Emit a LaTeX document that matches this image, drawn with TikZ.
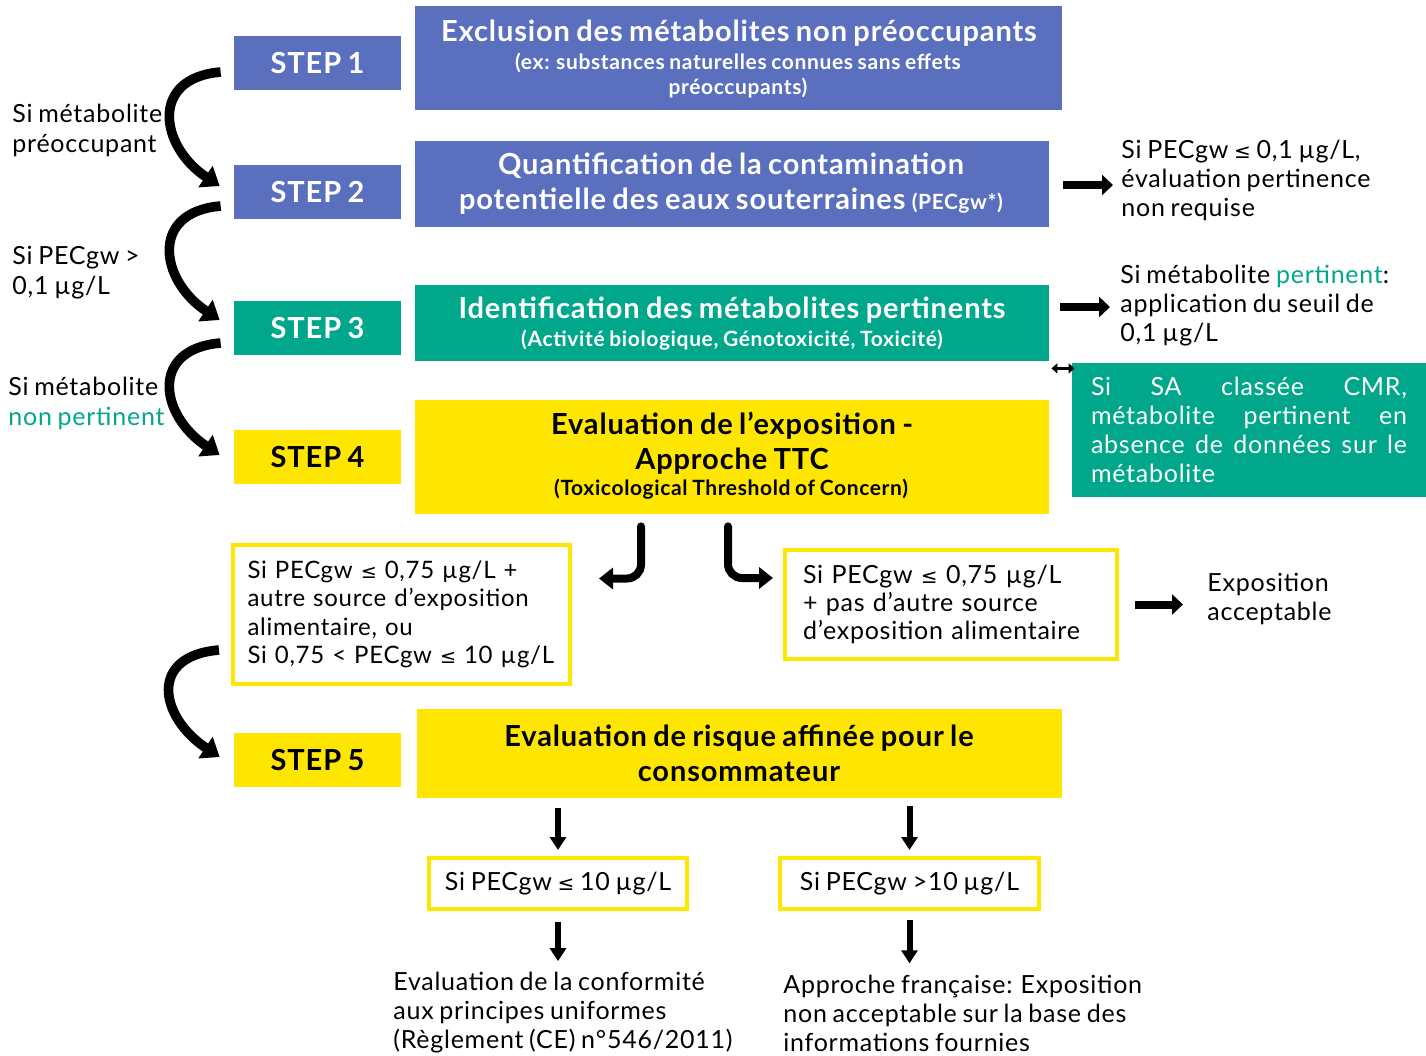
\documentclass[tikz,border=0pt]{standalone}
\usepackage{fontspec}
\setmainfont{Lato}[LetterSpace=3.0, WordSpace=0.8]
\newfontfamily\symfont{DejaVu Sans}[Scale=0.8]
\newcommand{\lesym}{{\symfont ≤}}
\usetikzlibrary{arrows.meta}
\definecolor{cblue}{HTML}{5A6FBE}
\definecolor{cgreen}{HTML}{00A78B}
\definecolor{cyellow}{HTML}{FFE600}
\tikzset{
  stepbox/.style={font=\bfseries\fontsize{14.5}{18}\selectfont, minimum width=83.5pt, minimum height=27pt, inner sep=0pt},
  bluefill/.style={fill=cblue, text=white},
  greenfill/.style={fill=cgreen, text=white},
  yellowfill/.style={fill=cyellow, text=black},
  mainbox/.style={inner sep=0pt},
  titletxt/.style={font=\bfseries\fontsize{14.5}{17.5}\selectfont, align=center, inner sep=0pt},
  subtxt/.style={font=\bfseries\fontsize{10.5}{12.5}\selectfont, align=center, inner sep=0pt},
  plaintxt/.style={font=\fontsize{12.5}{14.5}\selectfont, align=left, inner sep=0pt},
  condbox/.style={draw=cyellow, line width=2pt, fill=white, font=\fontsize{12.5}{14.2}\selectfont, align=left, inner ysep=0pt},
  curv/.style={line width=4.8pt, -{Triangle[length=8.5pt,width=12.5pt]}},
  sarrow/.style={line width=4pt, -{Triangle[length=5.5pt,width=10pt]}},
  darrow/.style={line width=3pt, -{Triangle[length=6.5pt,width=8pt]}},
  elbow/.style={line width=4pt, line cap=round, rounded corners=7pt, -{Triangle[length=7pt,width=10.5pt]}},
}
\begin{document}
\begin{tikzpicture}[x=0.5pt,y=-0.5pt]
\useasboundingbox (0,0) rectangle (1426,1056);

% step boxes
\node[stepbox, bluefill] (s1) at (317.5,63) {STEP 1};
\node[stepbox, bluefill] (s2) at (317.5,192) {STEP 2};
\node[stepbox, greenfill] (s3) at (317.5,328) {STEP 3};
\node[stepbox, yellowfill] (s4) at (317.5,457) {STEP 4};
\node[stepbox, yellowfill] (s5) at (317.5,760) {STEP 5};

% main boxes
\node[mainbox, fill=cblue, minimum width=323.5pt, minimum height=52pt] (b1) at (738.5,58) {};
\node[mainbox, fill=cblue, minimum width=317pt, minimum height=43pt] (b2) at (732,184) {};
\node[mainbox, fill=cgreen, minimum width=317pt, minimum height=38pt] (b3) at (732,323) {};
\node[mainbox, fill=cyellow, minimum width=317pt, minimum height=57pt] (b4) at (732,457) {};
\node[mainbox, fill=cyellow, minimum width=322.5pt, minimum height=44.5pt] (b5) at (739.5,753.5) {};

\node[titletxt, text=white] (t1a) at (739,33) {Exclusion des métabolites non préoccupants};
\node[subtxt, text=white] (t1b) at (738,76) {(ex: substances naturelles connues sans effets\\préoccupants)};
\node[titletxt, text=white] (t2) at (731,184) {Quantification de la contamination\\potentielle des eaux souterraines {\fontsize{10.5}{12}\selectfont(PECgw*)}};
\node[titletxt, text=white] (t3a) at (732,310) {Identification des métabolites pertinents};
\node[subtxt, text=white] (t3b) at (732,340) {(Activité biologique, Génotoxicité, Toxicité)};
\node[titletxt] (t4a) at (732,443) {Evaluation de l’exposition -\\Approche TTC};
\node[subtxt] (t4b) at (731,489) {(Toxicological Threshold of Concern)};
\node[titletxt] (t5) at (739,753) {Evaluation de risque affinée pour le\\consommateur};

% CMR box
\node[fill=cgreen, text=white, minimum width=177pt, minimum height=67pt, inner sep=0pt,
      font=\fontsize{12.5}{14.5}\selectfont, text width=158pt, align=left] (cmr) at (1249,430)
  {Si\hfill SA\hfill classée\hfill CMR,\\métabolite\hfill pertinent\hfill en\\absence\hfill de\hfill données\hfill sur\hfill le\\métabolite};

% condition boxes
\node[condbox, font=\fontsize{12}{14.2}\selectfont, text width=154pt, inner xsep=7.25pt, minimum height=69.5pt] (cL) at (401.5,614.5)
  {Si PECgw \lesym{} 0,75 µg/L +\\autre source d’exposition\\alimentaire, ou\\Si 0,75 < PECgw \lesym{} 10 µg/L};
\node[condbox, text width=148pt, inner xsep=9pt, minimum height=54.5pt] (cR) at (951,604.5)
  {Si PECgw \lesym{} 0,75 µg/L\\+ pas d’autre source\\d’exposition alimentaire};
\node[condbox, align=center, minimum width=129pt, minimum height=25.5pt] (c10a) at (558,883.5)
  {Si PECgw \lesym{} 10 µg/L};
\node[condbox, align=center, minimum width=129.5pt, minimum height=25.5pt] (c10b) at (909.5,883.5)
  {Si PECgw >10 µg/L};

% free texts
\node[plaintxt, anchor=west] (rt1) at (1121,180) {Si PECgw \lesym{} 0,1 µg/L,\\évaluation pertinence\\non requise};
\node[plaintxt, anchor=west] (rt2) at (1120,306) {Si métabolite {\color{cgreen}pertinent}:\\application du seuil de\\0,1 µg/L};
\node[plaintxt, anchor=west] (expo) at (1207,599) {Exposition\\acceptable};
\node[plaintxt, anchor=west] (bl) at (393,1013) {Evaluation de la conformité\\aux principes uniformes\\(Règlement (CE) n°546/2011)};
\node[plaintxt, anchor=west] (br) at (783,1013) {Approche française: Exposition\\non acceptable sur la base des\\informations fournies};
\node[plaintxt, anchor=west, font=\fontsize{12.5}{15}\selectfont] (L1) at (12,130) {Si métabolite\\préoccupant};
\node[plaintxt, anchor=west, font=\fontsize{12.5}{15}\selectfont] (L2) at (12,273) {Si PECgw >\\0,1 µg/L};
\node[plaintxt, anchor=west, font=\fontsize{12.5}{15}\selectfont] (L3) at (8,403) {Si métabolite\\{\color{cgreen}non pertinent}};

% curved arrows
\draw[curv] ([xshift=-6.5pt,yshift=-4.5pt]s1.west) .. controls +(-71,6) and +(-60,-40) .. ([xshift=-7pt,yshift=3pt]s2.west);
\draw[curv] ([xshift=-6.5pt,yshift=-7pt]s2.west) .. controls +(-71,6) and +(-60,-40) .. ([xshift=-7pt,yshift=4pt]s3.west);
\draw[curv] ([xshift=-6.5pt,yshift=-7.5pt]s3.west) .. controls +(-71,6) and +(-60,-40) .. ([xshift=-7pt,yshift=1pt]s4.west);
\draw[curv] ([xshift=-6pt,yshift=-17.75pt]cL.west) .. controls +(-71,6) and +(-60,-40) .. ([xshift=-7pt,yshift=1.5pt]s5.west);

% straight arrows
\draw[sarrow] ([xshift=7pt,yshift=-0.5pt]b2.east) -- ([xshift=-4pt,yshift=-0.5pt]b2.east -| rt1.west);
\draw[sarrow] ([xshift=5.5pt,yshift=8pt]b3.east) -- ([xshift=-5pt,yshift=8pt]b3.east -| rt2.west);
\draw[sarrow] ([xshift=8pt]cR.east) -- ([xshift=-12pt]cR.east -| expo.west);
\draw[darrow] ([yshift=-5pt]c10a.north |- b5.south) -- ([yshift=3pt]c10a.north);
\draw[darrow] ([yshift=-4pt]c10b.north |- b5.south) -- ([yshift=3pt]c10b.north);
\draw[darrow] ([yshift=-5.5pt]c10a.south) -- ([yshift=5.5pt]c10a.south |- bl.north);
\draw[darrow] ([yshift=-4.5pt]c10b.south) -- ([yshift=5.5pt]c10b.south |- br.north);

% elbow arrows
\draw[elbow] ([xshift=-45.5pt,yshift=-6pt]b4.south) |- ([xshift=13.5pt,yshift=18pt]cL.east);
\draw[elbow] ([xshift=-2pt,yshift=-6pt]b4.south) |- ([xshift=-5pt,yshift=13.25pt]cR.west);

% small double arrow
\draw[line width=1.5pt, {Triangle[length=3pt,width=5pt]}-{Triangle[length=3pt,width=5pt]}]
  ([xshift=1pt,yshift=-3.5pt]b3.south east) -- ([xshift=1.5pt,yshift=-3.5pt]b3.south east -| cmr.west);
\end{tikzpicture}
\end{document}
